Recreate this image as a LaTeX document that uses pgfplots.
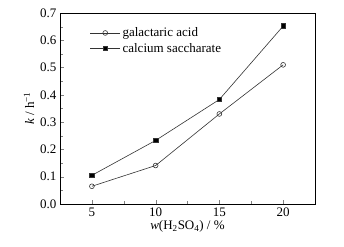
\documentclass[border=0pt]{standalone}
\usepackage{pgfplots}
\pgfplotsset{compat=1.18}
\usepackage{fontspec}
\setmainfont{Liberation Serif}
\begin{document}
\begin{tikzpicture}
\begin{axis}[
  scale only axis,
  width=255pt, height=191pt,
  xmin=2.5, xmax=22.5, ymin=0, ymax=0.7,
  xtick={5,10,15,20},
  ytick={0,0.1,0.2,0.3,0.4,0.5,0.6,0.7},
  minor x tick num=1, minor y tick num=1,
  tick align=inside,
  xtick pos=bottom, ytick pos=left,
  major tick length=4pt, minor tick length=2.5pt,
  /pgf/number format/assume math mode=true,
  yticklabel style={/pgf/number format/fixed,/pgf/number format/fixed zerofill,/pgf/number format/precision=1},
  tick label style={font=\fontsize{13}{14}\selectfont},
  label style={font=\fontsize{13}{14}\selectfont},
  xlabel={\textit{w}(H\textsubscript{2}SO\textsubscript{4}) / \%},
  ylabel={\textit{k} / h\textsuperscript{\textminus1}},
  xlabel style={yshift=3pt},
  ylabel style={yshift=-1pt},
  legend style={draw=none, fill=none, at={(0.105,0.945)}, anchor=north west, font=\fontsize{13}{14}\selectfont, row sep=1pt},
  legend cell align=left,
  every axis legend/.append style={/tikz/every even column/.append style={column sep=2pt}},
  legend image code/.code={\draw[#1] (0pt,0pt) -- (30pt,0pt); \draw[#1, mark repeat=1] plot coordinates {(15pt,0pt)};},
  every axis plot/.append style={line width=0.6pt, color=black!80},
]
\addplot[black!80, mark=o, mark size=2.4pt, mark options={fill=white, solid}] coordinates {(5,0.065) (10,0.141) (15,0.330) (20,0.510)};
\addlegendentry{galactaric acid}
\addplot[black!80, mark=square*, mark size=2.3pt, mark options={fill=black}] coordinates {(5,0.105) (10,0.233) (15,0.383) (20,0.652)};
\addlegendentry{calcium saccharate}
\end{axis}
\path ([xshift=-60pt,yshift=-43pt]current axis.south west) rectangle ([xshift=29pt,yshift=13pt]current axis.north east);
\end{tikzpicture}
\end{document}
